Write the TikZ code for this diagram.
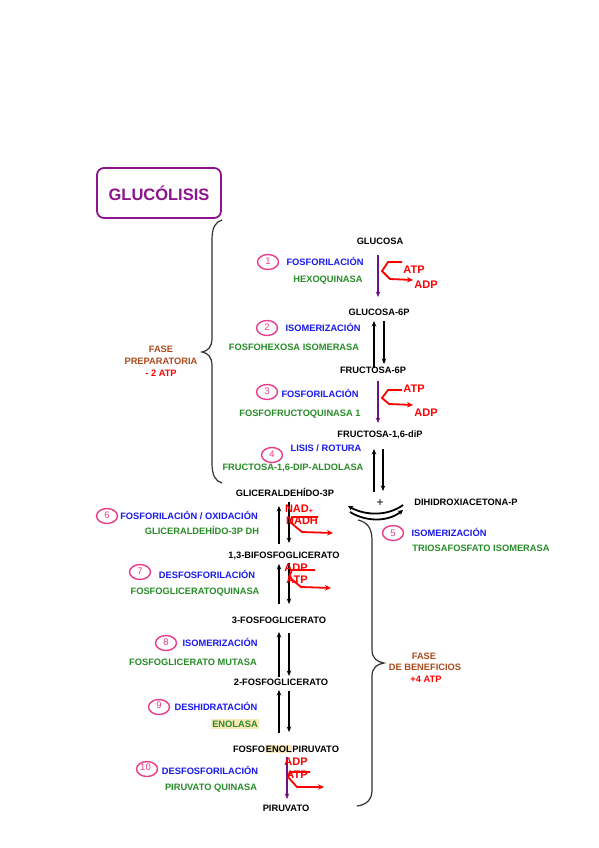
\documentclass[tikz,border=0pt]{standalone}
\usepackage{fontspec}
\setmainfont{Liberation Sans}
\usetikzlibrary{arrows.meta,shapes.geometric}
\definecolor{cblue}{RGB}{25,25,235}
\definecolor{cgreen}{RGB}{40,140,40}
\definecolor{cred}{RGB}{255,0,0}
\definecolor{cbrown}{RGB}{170,75,30}
\definecolor{cpink}{RGB}{235,60,140}
\definecolor{ctitle}{RGB}{140,20,140}
\definecolor{cpurple}{RGB}{110,20,130}
\definecolor{chl}{RGB}{250,232,185}
\definecolor{cbrace}{RGB}{50,50,50}
\begin{document}
\begin{tikzpicture}[x=1pt,y=-1pt,
  met/.style={font=\fontsize{9.3}{11}\selectfont\bfseries, text height=6.7pt, text depth=0pt, inner sep=0pt},
  proc/.style={met, text=cblue},
  enz/.style={met, text=cgreen},
  fase/.style={met, text=cbrown},
  num/.style={ellipse, draw=cpink, line width=1.4pt, minimum width=21pt, minimum height=15pt, inner sep=0pt, text=cpink, font=\fontsize{9.5}{10}\selectfont},
  rtxt/.style={font=\fontsize{11}{12}\selectfont\bfseries, text=cred, text height=7.9pt, text depth=0pt, inner sep=0pt},
  eqarrow/.style={-{Stealth[length=5.5pt,width=4.5pt]}, line width=1.3pt, black},
  redarrow/.style={cred, line width=1.8pt, -{Stealth[length=6pt,width=5.5pt]}, line join=miter},
  purarrow/.style={cpurple, line width=1.5pt, -{Stealth[length=5.5pt,width=4.5pt]}},
  bracestyle/.style={cbrace, line width=1.2pt},
  ttl/.style={draw=ctitle, line width=1.8pt, rounded corners=7pt, minimum width=124pt, minimum height=50pt, text=ctitle, font=\fontsize{16.5}{18}\selectfont\bfseries}
]
\path[use as bounding box, fill=white] (0,0) rectangle (599,848);

% title
\node[ttl] (title) at (159,193) {GLUCÓLISIS};

% metabolites
\node[met] (glc)  at (380,241) {GLUCOSA};
\node[met] (g6p)  at (379,312) {GLUCOSA-6P};
\node[met] (f6p)  at (373,370) {FRUCTOSA-6P};
\node[met] (f16)  at (380,434) {FRUCTOSA-1,6-diP};
\node[met] (gap)  at (285,493) {GLICERALDEHÍDO-3P};
\node[met] (dhap) at (466,502) {DIHIDROXIACETONA-P};
\node[met] (bpg)  at (284,555) {1,3-BIFOSFOGLICERATO};
\node[met] (pgc)  at (279,620) {3-FOSFOGLICERATO};
\node[met] (pgb)  at (281,682) {2-FOSFOGLICERATO};
\setlength{\fboxsep}{0.8pt}
\node[met] (pep)  at (286,749) {FOSFO\colorbox{chl}{ENOL}PIRUVATO};
\node[met] (pyr)  at (286,808) {PIRUVATO};
\node[font=\fontsize{12}{12}\selectfont, inner sep=0pt] (plus) at (380,503) {+};

% step labels
\node[num] (n1) at (268,262) {\raisebox{1pt}{1}};
\node[proc] (p1) at (325,262) {FOSFORILACIÓN};
\node[enz]  (e1) at (328,279) {HEXOQUINASA};

\node[num] (n2) at (267,328) {\raisebox{1pt}{2}};
\node[proc] (p2) at (323,328) {ISOMERIZACIÓN};
\node[enz]  (e2) at (294,347) {FOSFOHEXOSA ISOMERASA};

\node[num] (n3) at (267,392) {\raisebox{1pt}{3}};
\node[proc] (p3) at (320,394) {FOSFORILACIÓN};
\node[enz]  (e3) at (300,413) {FOSFOFRUCTOQUINASA 1};

\node[num] (n4) at (272,455) {\raisebox{1pt}{4}};
\node[proc] (p4) at (326,448) {LISIS / ROTURA};
\node[enz]  (e4) at (293,467) {FRUCTOSA-1,6-DIP-ALDOLASA};

\node[num] (n5) at (393,533) {5};
\node[proc] (p5) at (449,533) {ISOMERIZACIÓN};
\node[enz]  (e5) at (481,548) {TRIOSAFOSFATO ISOMERASA};

\node[num] (n6) at (107,516) {\raisebox{1pt}{6}};
\node[proc] (p6) at (189,516) {FOSFORILACIÓN / OXIDACIÓN};
\node[enz]  (e6) at (202,531) {GLICERALDEHÍDO-3P DH};

\node[num] (n7) at (140,572) {\raisebox{1pt}{7}};
\node[proc] (p7) at (207,575) {DESFOSFORILACIÓN};
\node[enz]  (e7) at (195,591) {FOSFOGLICERATOQUINASA};

\node[num] (n8) at (166,643) {\raisebox{2pt}{8}};
\node[proc] (p8) at (220,643) {ISOMERIZACIÓN};
\node[enz]  (e8) at (193,662) {FOSFOGLICERATO MUTASA};

\node[num] (n9) at (159,707) {\raisebox{3pt}{9}};
\node[proc] (p9) at (216,707) {DESHIDRATACIÓN};
\node[enz, fill=chl, inner sep=1.5pt] (e9) at (235,724) {ENOLASA};

\node[num] (n10) at (147,769) {\raisebox{3pt}{\kern-3pt 10}};
\node[proc] (p10) at (210,771) {DESFOSFORILACIÓN};
\node[enz]  (e10) at (211,787) {PIRUVATO QUINASA};

% phase labels
\node[fase] (fa1) at (161,349) {FASE};
\node[fase] (fa2) at (161,361) {PREPARATORIA};
\node[met, text=cred] (fa3) at (161,373) {- 2 ATP};
\node[fase] (fb1) at (424,656) {FASE};
\node[fase] (fb2) at (425,667) {DE BENEFICIOS};
\node[met, text=cred] (fb3) at (426,679) {+4 ATP};

% braces
\draw[bracestyle] (222,220) .. controls (215,222) and (212,228) .. (212,240) -- (212,338)
  .. controls (212,347) and (208,351) .. (202,352) .. controls (208,353) and (212,357) .. (212,366)
  -- (212,463) .. controls (212,475) and (215,481) .. (222,483);
\draw[bracestyle] (358,520) .. controls (367,522) and (372,528) .. (372,540) -- (372,650)
  .. controls (372,658) and (377,662) .. (384,663) .. controls (377,664) and (372,668) .. (372,676)
  -- (372,790) .. controls (372,800) and (366,805) .. (357,806);

% reversible arrows
\coordinate (a2u0) at (374,368); \coordinate (a2u1) at (374,321);
\coordinate (a2d0) at (384,321); \coordinate (a2d1) at (384,364);
\draw[eqarrow] (a2u0) -- (a2u1); \draw[eqarrow] (a2d0) -- (a2d1);
\coordinate (a4u0) at (374,492); \coordinate (a4u1) at (374,449);
\coordinate (a4d0) at (383,449); \coordinate (a4d1) at (383,491);
\draw[eqarrow] (a4u0) -- (a4u1); \draw[eqarrow] (a4d0) -- (a4d1);
\coordinate (a6u0) at (279,544); \coordinate (a6u1) at (279,506);
\coordinate (a6d0) at (289,502); \coordinate (a6d1) at (289,543);
\draw[eqarrow] (a6u0) -- (a6u1); \draw[eqarrow] (a6d0) -- (a6d1);
\coordinate (a7u0) at (279,604); \coordinate (a7u1) at (279,564);
\coordinate (a7d0) at (289,563); \coordinate (a7d1) at (289,604);
\draw[eqarrow] (a7u0) -- (a7u1); \draw[eqarrow] (a7d0) -- (a7d1);
\coordinate (a8u0) at (279,677); \coordinate (a8u1) at (279,632);
\coordinate (a8d0) at (289,633); \coordinate (a8d1) at (289,676);
\draw[eqarrow] (a8u0) -- (a8u1); \draw[eqarrow] (a8d0) -- (a8d1);
\coordinate (a9u0) at (279,733); \coordinate (a9u1) at (279,690);
\coordinate (a9d0) at (289,691); \coordinate (a9d1) at (289,732);
\draw[eqarrow] (a9u0) -- (a9u1); \draw[eqarrow] (a9d0) -- (a9d1);

% irreversible (purple) arrows
\coordinate (a1t) at (378,255); \coordinate (a1b) at (378,297);
\draw[purarrow] (a1t) -- (a1b);
\coordinate (a3t) at (378,381); \coordinate (a3b) at (378,423);
\draw[purarrow] (a3t) -- (a3b);
\coordinate (a10t) at (287,757); \coordinate (a10b) at (287,799);
\draw[purarrow] (a10t) -- (a10b);

% triose isomerisation arcs
\coordinate (t1) at (403,505); \coordinate (t2) at (348,506);
\coordinate (t3) at (350,512); \coordinate (t4) at (403,510);
\draw[line width=1.8pt, -{Stealth[length=5pt,width=5pt]}] (t1) .. controls (388,516) and (366,516) .. (t2);
\draw[line width=1.8pt, -{Stealth[length=5pt,width=5pt]}] (t3) .. controls (366,522) and (388,522) .. (t4);

% red cofactor arrows
\draw[redarrow] (402,262) -- (388,262) -- (382,271) -- (390,279) -- (413,280);
\node[rtxt] (atp1) at (414,270) {ATP};
\node[rtxt] (adp1) at (426,285) {ADP};

\draw[redarrow] (402,390) -- (388,390) -- (382,398) -- (389,404) -- (413,405);
\node[rtxt] (atp3) at (414,389) {ATP};
\node[rtxt] (adp3) at (426,413) {ADP};

\draw[redarrow] (318,517) -- (292,517) -- (290,522) -- (302,532) -- (333,533);
\node[rtxt] (nad6) at (299,509) {NAD\raisebox{-1pt}{\fontsize{7}{7}\selectfont +}};
\node[rtxt] (nadh6) at (302,521) {NADH};

\draw[redarrow] (315,570) -- (292,570) -- (289,577) -- (301,587) -- (331,588);
\node[rtxt] (adp7) at (296,568) {ADP};
\node[rtxt] (atp7) at (297,580) {ATP};

\draw[redarrow] (310,772) -- (291,772) -- (288,777) -- (297,787) -- (324,787);
\node[rtxt] (adp10) at (296,762) {ADP};
\node[rtxt] (atp10) at (297,775) {ATP};
\end{tikzpicture}
\end{document}
